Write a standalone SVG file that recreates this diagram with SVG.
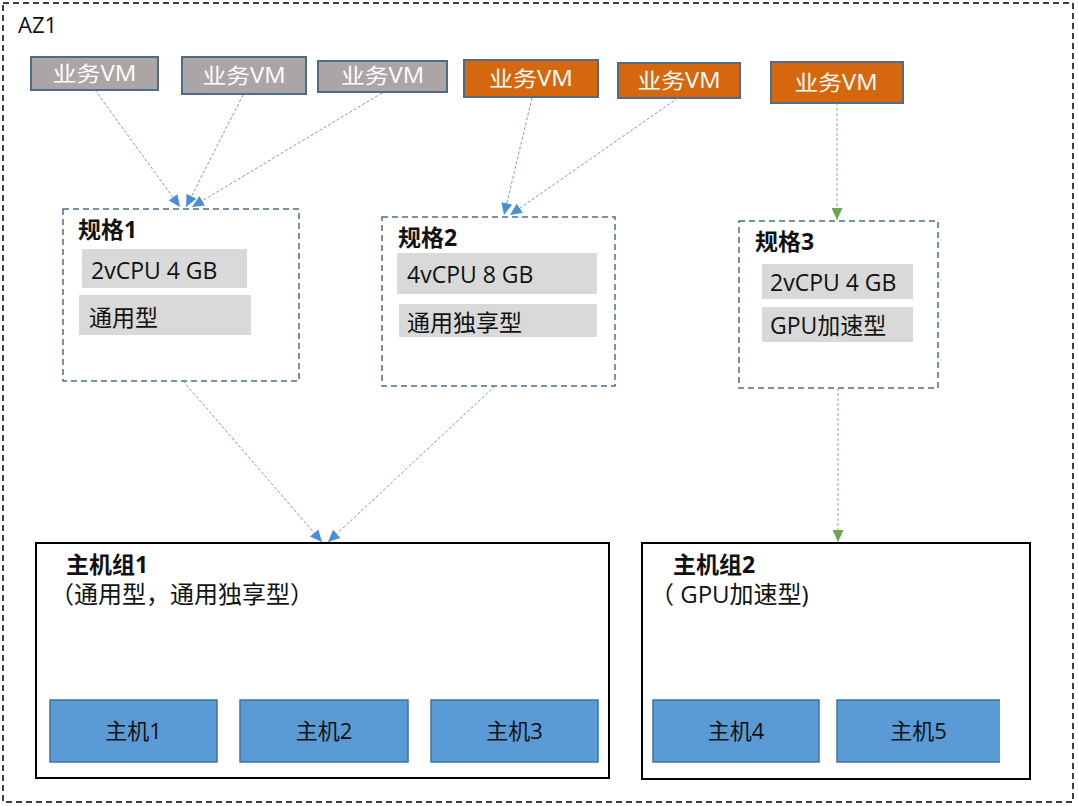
<svg xmlns="http://www.w3.org/2000/svg" width="1078" height="806" viewBox="0 0 1078 806">
<style>
text{font-family:"Open Sans","Noto Sans CJK SC",sans-serif;}
.vm{stroke:#4f6b8a;stroke-width:2;}
.gray{fill:#aba5a5;}
.orange{fill:#d5670f;}
.vmt{fill:#ffffff;font-size:21px;text-anchor:middle;}
.spec{fill:#ffffff;stroke:#4d6d8c;stroke-width:1.5;stroke-dasharray:6 4;}
.title{font-size:23px;font-weight:bold;fill:#111;}
.attr{fill:#d9d9d9;}
.at{font-size:23px;fill:#111;}
.sub{font-size:24px;fill:#111;}
.grp{fill:#ffffff;stroke:#000;stroke-width:2;}
.host{fill:#5b9bd5;}
.hostb{fill:none;stroke:#41719c;stroke-width:1.5;}
.ht{font-size:22px;fill:#111;text-anchor:middle;}
.cb{fill:none;stroke:#7d9dbd;stroke-width:1;stroke-dasharray:3 2;}
.cg{fill:none;stroke:#8fae7a;stroke-width:1;stroke-dasharray:3 2;}
</style>
<defs>
<marker id="ab" markerUnits="userSpaceOnUse" markerWidth="13" markerHeight="11" refX="12" refY="5.5" orient="auto"><path d="M0,0 L12,5.5 L0,11 z" fill="#4a8fd6"/></marker>
<marker id="ag" markerUnits="userSpaceOnUse" markerWidth="13" markerHeight="11" refX="12" refY="5.5" orient="auto"><path d="M0,0 L12,5.5 L0,11 z" fill="#6aa84f"/></marker>
</defs>
<rect x="0" y="0" width="1078" height="806" fill="#ffffff"/>
<g id="az1">
<rect x="3" y="3" width="1070" height="799" fill="none" stroke="#000" stroke-width="1.5" stroke-dasharray="6 4"/>
<text x="18" y="33" font-size="22" fill="#111">AZ1</text>
</g>
<g id="vm1"><rect class="vm gray" x="31" y="57" width="127" height="33"/><text class="vmt" x="94.5" y="81" textLength="84" lengthAdjust="spacingAndGlyphs">业务VM</text></g>
<g id="vm2"><rect class="vm gray" x="182" y="57" width="124" height="37"/><text class="vmt" x="244" y="83" textLength="83" lengthAdjust="spacingAndGlyphs">业务VM</text></g>
<g id="vm3"><rect class="vm gray" x="318" y="61" width="129" height="31"/><text class="vmt" x="382.5" y="83" textLength="83" lengthAdjust="spacingAndGlyphs">业务VM</text></g>
<g id="vm4"><rect class="vm orange" x="464" y="60" width="134" height="37"/><text class="vmt" x="531" y="86" textLength="84" lengthAdjust="spacingAndGlyphs">业务VM</text></g>
<g id="vm5"><rect class="vm orange" x="618" y="63" width="122" height="35"/><text class="vmt" x="679" y="88" textLength="83" lengthAdjust="spacingAndGlyphs">业务VM</text></g>
<g id="vm6"><rect class="vm orange" x="771" y="62" width="132" height="41"/><text class="vmt" x="836" y="90" textLength="83" lengthAdjust="spacingAndGlyphs">业务VM</text></g>
<g id="spec1">
<rect class="spec" x="63" y="209" width="236" height="172"/>
<text class="title" x="78" y="238">规格1</text>
<rect class="attr" x="82" y="249" width="165" height="39"/>
<text class="at" x="91" y="279">2vCPU 4 GB</text>
<rect class="attr" x="79" y="295" width="172" height="40"/>
<text class="at" x="89" y="326">通用型</text>
</g>
<g id="spec2">
<rect class="spec" x="382" y="217" width="233" height="169"/>
<text class="title" x="398" y="246">规格2</text>
<rect class="attr" x="397" y="253" width="200" height="41"/>
<text class="at" x="407" y="283">4vCPU 8 GB</text>
<rect class="attr" x="399" y="304" width="198" height="33"/>
<text class="at" x="407" y="331">通用独享型</text>
</g>
<g id="spec3">
<rect class="spec" x="739" y="221" width="199" height="167"/>
<text class="title" x="755" y="250">规格3</text>
<rect class="attr" x="762" y="264" width="151" height="35"/>
<text class="at" x="770" y="291">2vCPU 4 GB</text>
<rect class="attr" x="762" y="307" width="151" height="35"/>
<text class="at" x="770" y="334">GPU加速型</text>
</g>
<g id="group1">
<rect class="grp" x="36" y="543" width="573" height="235"/>
<text class="title" x="66" y="573">主机组1</text>
<text class="sub" x="50" y="603">（通用型，通用独享型）</text>
</g>
<g id="host1"><rect class="host" x="50" y="700" width="167" height="62"/><rect class="hostb" x="50" y="700" width="167" height="62"/><text class="ht" x="133.5" y="739">主机1</text></g>
<g id="host2"><rect class="host" x="240" y="700" width="168" height="62"/><rect class="hostb" x="240" y="700" width="168" height="62"/><text class="ht" x="324" y="739">主机2</text></g>
<g id="host3"><rect class="host" x="431" y="700" width="167" height="62"/><rect class="hostb" x="431" y="700" width="167" height="62"/><text class="ht" x="514.5" y="739">主机3</text></g>
<g id="group2">
<rect class="grp" x="642" y="543" width="388" height="236"/>
<text class="title" x="673" y="573">主机组2</text>
<text class="sub" x="650" y="603">（ GPU加速型)</text>
</g>
<g id="host4"><rect class="host" x="653" y="700" width="166" height="62"/><rect class="hostb" x="653" y="700" width="166" height="62"/><text class="ht" x="736" y="739">主机4</text></g>
<g id="host5"><rect class="host" x="837" y="700" width="163" height="62"/><path class="hostb" d="M1000,700 L837,700 L837,762 L1000,762"/><text class="ht" x="918.5" y="739">主机5</text></g>
<g id="connectors">
<path class="cb" d="M95,90 L180,207" marker-end="url(#ab)"/>
<path class="cb" d="M243,95 L186,207" marker-end="url(#ab)"/>
<path class="cb" d="M382,93 L192,207" marker-end="url(#ab)"/>
<path class="cb" d="M532,98 L504,215" marker-end="url(#ab)"/>
<path class="cb" d="M678,98 L510,215" marker-end="url(#ab)"/>
<path class="cg" d="M837,103 L837,220" marker-end="url(#ag)"/>
<path class="cb" d="M183,381 L322,542" marker-end="url(#ab)"/>
<path class="cb" d="M495,386 L328,542" marker-end="url(#ab)"/>
<path class="cg" d="M838,388 L838,542" marker-end="url(#ag)"/>
</g>
</svg>
